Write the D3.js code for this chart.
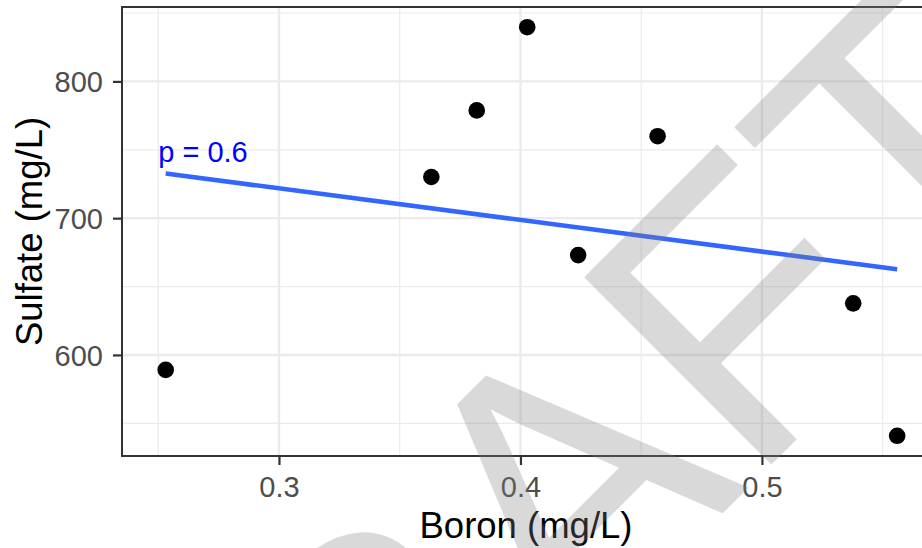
<!DOCTYPE html>
<html>
<head>
<meta charset="utf-8">
<script src="https://cdn.jsdelivr.net/npm/d3@7"></script>
<style>
  body { margin: 0; background: #fff; }
  svg { display: block; font-family: Arial, "Liberation Sans", sans-serif; }
</style>
</head>
<body>
<div id="chart"></div>
<script>
// values
const boron   = [0.2531, 0.3631, 0.3819, 0.4028, 0.4239, 0.4568, 0.5378, 0.5560]
const sulfate = [589.1, 730.1, 778.8, 839.6, 673.0, 759.9, 637.7, 540.9]

const xDomain = [0.235, 0.5696]
const yDomain = [526.1, 854.4]
const xTicks = [0.3, 0.4, 0.5]
const xMinor = [0.25, 0.35, 0.45, 0.55]
const yTicks = [600, 700, 800]
const yMinor = [550, 650, 750, 850]

const pLabel = "p = 0.6"
const pLabelAt = [0.25, 741]
const watermark = "DRAFT"

const width = 922, height = 548
const panel = { left: 122, top: 7, right: 930, bottom: 456 }

let x = d3.scaleLinear().domain(xDomain).range([panel.left, panel.right])
let y = d3.scaleLinear().domain(yDomain).range([panel.bottom, panel.top])

let svg = d3.select("#chart")
  .append("svg")
  .attr("width", width)
  .attr("height", height)

svg.append("clipPath")
    .attr("id", "panel-clip")
  .append("rect")
    .attr("x", panel.left)
    .attr("y", panel.top)
    .attr("width", panel.right - panel.left)
    .attr("height", panel.bottom - panel.top)

let grid = svg.append("g").attr("clip-path", "url(#panel-clip)")

// minor grid first, then major
grid.selectAll(".xminor").data(xMinor).enter().append("line")
  .attr("x1", d => x(d)).attr("x2", d => x(d))
  .attr("y1", panel.top).attr("y2", panel.bottom)
  .attr("stroke", "#ebebeb").attr("stroke-width", 1.2)
grid.selectAll(".yminor").data(yMinor).enter().append("line")
  .attr("y1", d => y(d)).attr("y2", d => y(d))
  .attr("x1", panel.left).attr("x2", panel.right)
  .attr("stroke", "#ebebeb").attr("stroke-width", 1.2)
grid.selectAll(".xmajor").data(xTicks).enter().append("line")
  .attr("x1", d => x(d)).attr("x2", d => x(d))
  .attr("y1", panel.top).attr("y2", panel.bottom)
  .attr("stroke", "#ebebeb").attr("stroke-width", 2.4)
grid.selectAll(".ymajor").data(yTicks).enter().append("line")
  .attr("y1", d => y(d)).attr("y2", d => y(d))
  .attr("x1", panel.left).attr("x2", panel.right)
  .attr("stroke", "#ebebeb").attr("stroke-width", 2.4)

// least squares fit, like geom_smooth(method = "lm")
let mx = d3.mean(boron), my = d3.mean(sulfate)
let sxy = d3.sum(boron, (b, i) => (b - mx) * (sulfate[i] - my))
let sxx = d3.sum(boron, b => (b - mx) * (b - mx))
let slope = sxy / sxx
let icpt = my - slope * mx
let fitX = d3.extent(boron)

let plot = svg.append("g").attr("clip-path", "url(#panel-clip)")

plot.selectAll(".pt").data(boron).enter().append("circle")
  .attr("cx", d => x(d))
  .attr("cy", (d, i) => y(sulfate[i]))
  .attr("r", 8.3)
  .attr("fill", "#000")

plot.append("path")
  .datum(fitX)
  .attr("d", d3.line().x(d => x(d)).y(d => y(icpt + slope * d)))
  .attr("stroke", "#3366ff")
  .attr("stroke-width", 4.6)
  .attr("fill", "none")

plot.append("text")
  .attr("x", x(pLabelAt[0]))
  .attr("y", y(pLabelAt[1]))
  .attr("font-size", 29)
  .attr("fill", "#0000ff")
  .text(pLabel)

// panel border
svg.append("rect")
  .attr("x", panel.left)
  .attr("y", panel.top)
  .attr("width", panel.right - panel.left)
  .attr("height", panel.bottom - panel.top)
  .attr("fill", "none")
  .attr("stroke", "#333333")
  .attr("stroke-width", 2)

// axes
let yAxis = svg.append("g")
  .attr("transform", `translate(${panel.left},0)`)
  .call(d3.axisLeft(y).tickValues(yTicks).tickSize(9).tickPadding(10))
  .call(g => g.select(".domain").remove())
  .call(g => g.selectAll(".tick line").attr("stroke", "#333333").attr("stroke-width", 2.2))
  .call(g => g.selectAll(".tick text")
    .attr("fill", "#4d4d4d")
    .attr("font-size", 29)
    .attr("dy", "0.36em"))

let xAxis = svg.append("g")
  .attr("transform", `translate(0,${panel.bottom})`)
  .call(d3.axisBottom(x).tickValues(xTicks).tickSize(9).tickFormat(d3.format(".1f")))
  .call(g => g.select(".domain").remove())
  .call(g => g.selectAll(".tick line").attr("stroke", "#333333").attr("stroke-width", 2.2))
  .call(g => g.selectAll(".tick text")
    .attr("fill", "#4d4d4d")
    .attr("font-size", 29)
    .attr("y", 41)
    .attr("dy", null))

xAxis.attr("font-family", null).attr("font-size", null)
yAxis.attr("font-family", null).attr("font-size", null)

// axis titles
svg.append("text")
  .attr("x", (panel.left + panel.right) / 2)
  .attr("y", 538)
  .attr("text-anchor", "middle")
  .attr("font-size", 36.5)
  .attr("fill", "#000")
  .text("Boron (mg/L)")

svg.append("text")
  .attr("transform", `translate(42,${(panel.top + panel.bottom) / 2}) rotate(-90)`)
  .attr("text-anchor", "middle")
  .attr("font-size", 36.5)
  .attr("fill", "#000")
  .text("Sulfate (mg/L)")

// watermark over everything
svg.append("text")
  .attr("transform", "translate(628,608) rotate(-45)")
  .attr("text-anchor", "middle")
  .attr("font-size", 385)
  .attr("fill", "#808080")
  .attr("fill-opacity", 0.3)
  .text(watermark)
</script>
</body>
</html>
